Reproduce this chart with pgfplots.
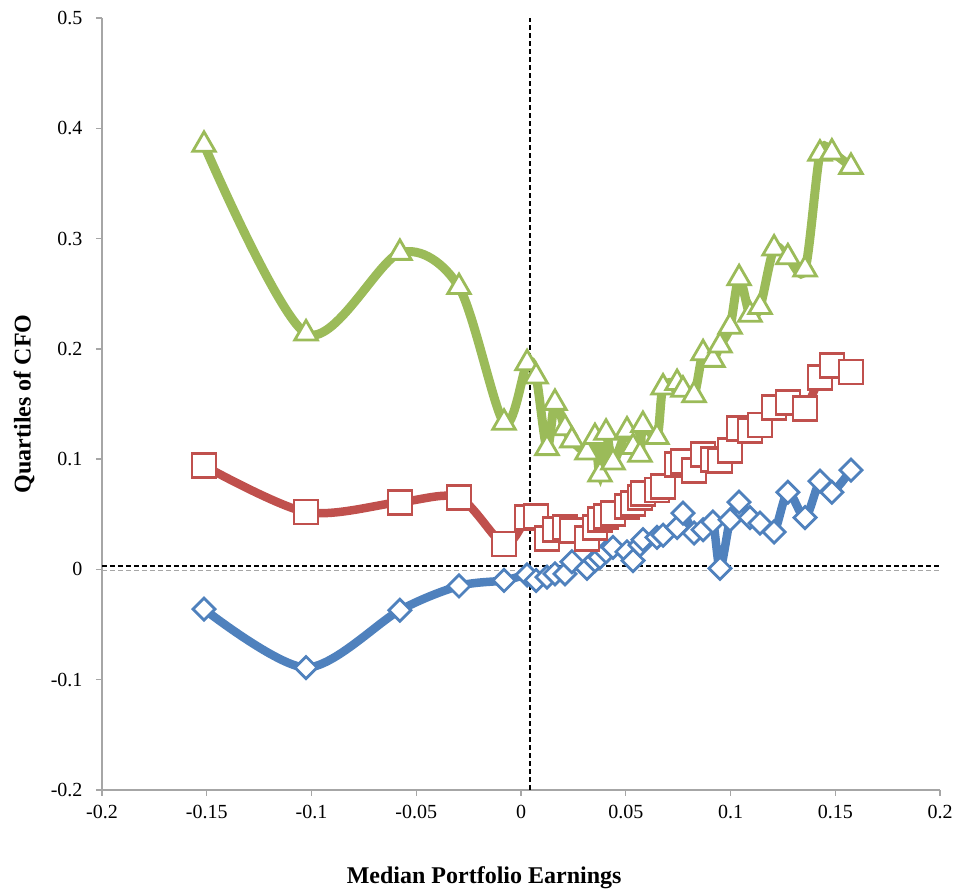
\documentclass[border=0pt]{standalone}
\usepackage{pgfplots}
\pgfplotsset{compat=1.18}
\usepackage{pgfplotstable}
\usepackage{fontspec}
\setmainfont{Liberation Serif}
\definecolor{cgreen}{HTML}{9BBB59}
\definecolor{cred}{HTML}{C0504D}
\definecolor{cblue}{HTML}{4F81BD}
\definecolor{caxis}{HTML}{A6A6A6}

\pgfplotstableread{
x y
-0.1513 0.385
-0.1026 0.214
-0.0578 0.287
-0.0296 0.256
-0.0081 0.133
0.0029 0.187
0.0072 0.175
0.0124 0.110
0.0162 0.151
0.0210 0.128
0.0243 0.117
0.0315 0.106
0.0353 0.120
0.0377 0.086
0.0406 0.124
0.0439 0.097
0.0506 0.126
0.0535 0.111
0.0568 0.104
0.0582 0.131
0.0649 0.120
0.0678 0.165
0.0745 0.169
0.0773 0.163
0.0826 0.158
0.0869 0.196
0.0916 0.190
0.0950 0.203
0.0998 0.220
0.1041 0.264
0.1093 0.231
0.1141 0.238
0.1208 0.291
0.1274 0.283
0.1356 0.272
0.1427 0.377
0.1484 0.378
0.1575 0.365
}\greendata

\pgfplotstableread{
x y
-0.1513 0.094
-0.1026 0.052
-0.0578 0.061
-0.0296 0.065
-0.0081 0.023
0.0029 0.047
0.0072 0.048
0.0124 0.028
0.0162 0.036
0.0210 0.038
0.0243 0.035
0.0315 0.028
0.0353 0.038
0.0377 0.045
0.0406 0.048
0.0439 0.051
0.0506 0.057
0.0535 0.060
0.0568 0.065
0.0582 0.069
0.0649 0.072
0.0678 0.075
0.0745 0.095
0.0773 0.098
0.0826 0.090
0.0869 0.104
0.0916 0.100
0.0950 0.099
0.0998 0.108
0.1041 0.128
0.1093 0.126
0.1141 0.131
0.1208 0.147
0.1274 0.151
0.1356 0.146
0.1427 0.174
0.1484 0.185
0.1575 0.179
}\reddata

\pgfplotstableread{
x y
-0.1513 -0.036
-0.1026 -0.089
-0.0578 -0.037
-0.0296 -0.015
-0.0081 -0.010
0.0029 -0.005
0.0072 -0.010
0.0124 -0.007
0.0162 -0.004
0.0210 -0.004
0.0243 0.007
0.0315 0.001
0.0353 0.008
0.0377 0.011
0.0406 0.016
0.0439 0.020
0.0506 0.016
0.0535 0.008
0.0568 0.022
0.0582 0.027
0.0649 0.029
0.0678 0.031
0.0745 0.038
0.0773 0.051
0.0826 0.033
0.0869 0.036
0.0916 0.043
0.0950 0.001
0.0998 0.045
0.1041 0.061
0.1093 0.047
0.1141 0.042
0.1208 0.034
0.1274 0.070
0.1356 0.047
0.1427 0.080
0.1484 0.070
0.1575 0.090
}\bluedata

\begin{document}
\begin{tikzpicture}
\begin{axis}[
  name=ax,
  scale only axis,
  width=838pt, height=772pt,
  xmin=-0.2, xmax=0.2, ymin=-0.2, ymax=0.5,
  axis x line*=bottom, axis y line*=left,
  axis line style={caxis, line width=1.4pt},
  xtick={-0.2,-0.15,...,0.21},
  ytick={-0.2,-0.1,...,0.51},
  xticklabels={-0.2,-0.15,-0.1,-0.05,0,0.05,0.1,0.15,0.2},
  yticklabels={-0.2,-0.1,0,0.1,0.2,0.3,0.4,0.5},
  tick align=outside,
  major tick length=6pt,
  tick style={caxis, line width=1.4pt},
  ticklabel style={font=\fontsize{20}{23}\selectfont, text=black},
  xticklabel style={yshift=-6pt},
  yticklabel style={xshift=-10pt},
  xlabel={\textbf{Median Portfolio Earnings}},
  ylabel={\textbf{Quartiles of CFO}},
  xlabel style={at={(axis description cs:0.456,-0.114)}, anchor=center, font=\fontsize{24}{28}\selectfont},
  ylabel style={at={(axis description cs:-0.093,0.5)}, anchor=center, font=\fontsize{24}{28}\selectfont},
  clip=false,
]
% reference lines
\addplot[black, line width=1.8pt, dash pattern=on 5pt off 3pt] coordinates {(0.0043,-0.2) (0.0043,0.5)};
\addplot[gray!70, line width=1.8pt, dash pattern=on 5pt off 3pt] coordinates {(-0.2,-0.001) (0.2,-0.001)};
\addplot[black, line width=1.8pt, dash pattern=on 5pt off 3pt] coordinates {(-0.2,0.003) (0.2,0.003)};
% series
\addplot[cblue, line width=8.5pt, smooth, tension=0.5,
  mark=square*, mark size=7.8pt,
  mark options={fill=white, draw=cblue, line width=2.8pt, solid, rotate=45}] table {\bluedata};
\addplot[cred, line width=8.5pt, smooth, tension=0.5,
  mark=square*, mark size=12pt,
  mark options={fill=white, draw=cred, line width=2.8pt, solid}] table {\reddata};
\addplot[cgreen, line width=9pt, smooth, tension=0.5,
  mark=triangle*, mark size=13pt,
  mark options={fill=white, draw=cgreen, line width=2.8pt, solid}] table {\greendata};
\end{axis}
\path ([shift={(-102pt,-102pt)}]ax.south west) rectangle ([shift={(18pt,18pt)}]ax.north east);
\end{tikzpicture}
\end{document}
